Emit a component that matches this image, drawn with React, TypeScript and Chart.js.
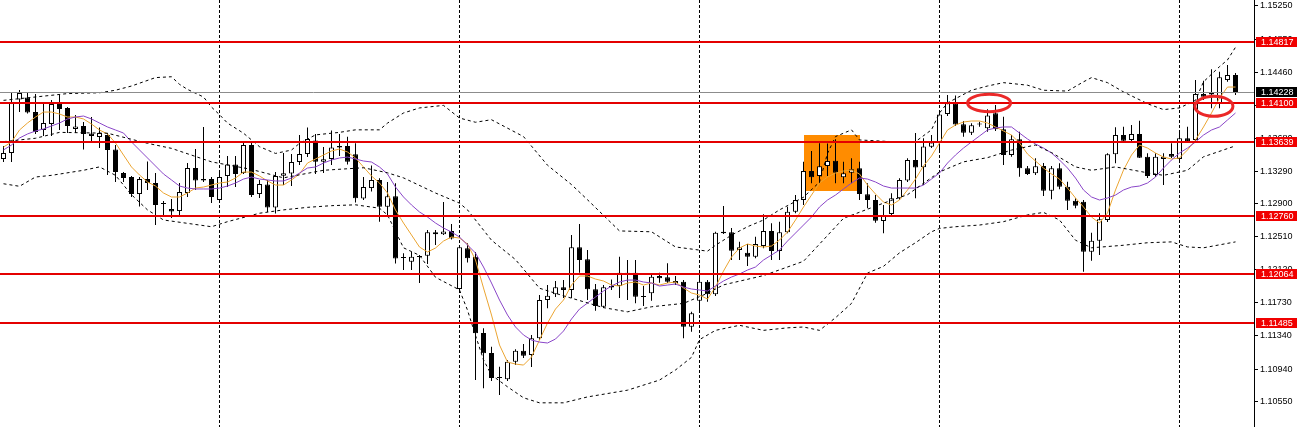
import React, { useEffect, useRef } from "react";
import { Chart, registerables } from "chart.js";

Chart.register(...registerables);

// ---------- DATA (EURUSD-like H4 candles) ----------
const opens = [
  1.13434, 1.13505, 1.14140, 1.14164, 1.13991, 1.13778, 1.13850, 1.14098, 1.14039, 1.13790,
  1.13826, 1.13737, 1.13695, 1.13718, 1.13547, 1.13267, 1.13220, 1.13018, 1.13196, 1.13149,
  1.12911, 1.12840, 1.12816, 1.13030, 1.13327, 1.13196, 1.13196, 1.12947, 1.13232, 1.13368,
  1.13267, 1.13600, 1.13018, 1.13131, 1.12858, 1.13236, 1.13262, 1.13398, 1.13493, 1.13653,
  1.13402, 1.13434, 1.13588, 1.13588, 1.13489, 1.12965, 1.13089, 1.13185, 1.12868, 1.12991,
  1.12264, 1.12214, 1.12282, 1.12286, 1.12564, 1.12540, 1.12579, 1.11890, 1.12374, 1.12274,
  1.11368, 1.11131, 1.10840, 1.10819, 1.11028, 1.11158, 1.11107, 1.11305, 1.11760, 1.11828,
  1.11911, 1.11879, 1.12386, 1.12243, 1.11887, 1.11681, 1.11926, 1.11926, 1.12084, 1.12084,
  1.11804, 1.11840, 1.12045, 1.12030, 1.11958, 1.11977, 1.11443, 1.11752, 1.11977, 1.11828,
  1.12552, 1.12564, 1.12354, 1.12322, 1.12274, 1.12401, 1.12579, 1.12342, 1.12564, 1.12808,
  1.12947, 1.13291, 1.13232, 1.13351, 1.13413, 1.13216, 1.13271, 1.13323, 1.13015, 1.12947,
  1.12698, 1.12781, 1.12967, 1.13179, 1.13422, 1.13335, 1.13580, 1.13624, 1.13968, 1.14089,
  1.13846, 1.13746, 1.13849, 1.13798, 1.13976, 1.13786, 1.13481, 1.13668, 1.13323, 1.13264,
  1.13351, 1.13057, 1.13323, 1.13105, 1.12939, 1.12927, 1.12333, 1.12464, 1.12710, 1.13489,
  1.13718, 1.13659, 1.13731, 1.13461, 1.13244, 1.13434, 1.13493, 1.13434, 1.13679, 1.13659,
  1.14205, 1.14217, 1.14095, 1.14371, 1.14431,
];
const highs = [
  1.13588, 1.14229, 1.14253, 1.14217, 1.14206, 1.14110, 1.14134, 1.14194, 1.14051, 1.13956,
  1.13873, 1.13932, 1.13808, 1.13742, 1.13600, 1.13279, 1.13232, 1.13220, 1.13404, 1.13267,
  1.12935, 1.12959, 1.13149, 1.13386, 1.13552, 1.13814, 1.13220, 1.13303, 1.13469, 1.13469,
  1.13624, 1.13624, 1.13185, 1.13185, 1.13279, 1.13505, 1.13493, 1.13718, 1.13808, 1.13731,
  1.13576, 1.13772, 1.13731, 1.13699, 1.13620, 1.13220, 1.13357, 1.13205, 1.13161, 1.13145,
  1.12314, 1.12330, 1.12294, 1.12591, 1.12591, 1.12923, 1.12662, 1.12401, 1.12433, 1.12330,
  1.11424, 1.11206, 1.10968, 1.11048, 1.11175, 1.11238, 1.11344, 1.11819, 1.11938, 1.11986,
  1.11997, 1.12532, 1.12662, 1.12354, 1.11950, 1.11938, 1.12003, 1.12274, 1.12235, 1.12235,
  1.11926, 1.12077, 1.12084, 1.12196, 1.12045, 1.11997, 1.11621, 1.12037, 1.11997, 1.12571,
  1.12876, 1.12615, 1.12452, 1.12425, 1.12511, 1.12777, 1.12670, 1.12689, 1.12868, 1.13006,
  1.13402, 1.13529, 1.13620, 1.13618, 1.13668, 1.13402, 1.13442, 1.13402, 1.13145, 1.13006,
  1.12888, 1.13027, 1.13205, 1.13442, 1.13742, 1.13679, 1.13718, 1.14003, 1.14194, 1.14187,
  1.13885, 1.13857, 1.13877, 1.14024, 1.14075, 1.13936, 1.13718, 1.13758, 1.13351, 1.13442,
  1.13386, 1.13351, 1.13383, 1.13165, 1.12967, 1.12947, 1.12559, 1.12789, 1.13501, 1.13810,
  1.13817, 1.13837, 1.13888, 1.13501, 1.13501, 1.13501, 1.13620, 1.13778, 1.13817, 1.14371,
  1.14363, 1.14498, 1.14470, 1.14549, 1.14455,
];
const lows = [
  1.13398, 1.13398, 1.13991, 1.13973, 1.13731, 1.13707, 1.13707, 1.13778, 1.13742, 1.13742,
  1.13547, 1.13624, 1.13564, 1.13244, 1.13161, 1.13161, 1.12983, 1.12870, 1.13066, 1.12650,
  1.12745, 1.12734, 1.12769, 1.12983, 1.13066, 1.13161, 1.12911, 1.12923, 1.13101, 1.13101,
  1.13256, 1.12983, 1.12971, 1.12805, 1.12787, 1.13125, 1.13113, 1.13363, 1.13457, 1.13256,
  1.13267, 1.13363, 1.13469, 1.13368, 1.12917, 1.12947, 1.13048, 1.12689, 1.12769, 1.12195,
  1.12116, 1.12116, 1.11962, 1.12187, 1.12413, 1.12532, 1.12478, 1.11879, 1.12205, 1.10810,
  1.10712, 1.10798, 1.10632, 1.10798, 1.10988, 1.11071, 1.10965, 1.11285, 1.11661, 1.11796,
  1.11784, 1.11784, 1.12084, 1.11760, 1.11633, 1.11665, 1.11879, 1.11784, 1.11760, 1.11721,
  1.11689, 1.11752, 1.11965, 1.11962, 1.11938, 1.11305, 1.11384, 1.11641, 1.11740, 1.11808,
  1.12543, 1.12235, 1.12235, 1.12164, 1.12255, 1.12374, 1.12235, 1.12235, 1.12552, 1.12789,
  1.12888, 1.13145, 1.13145, 1.13232, 1.13145, 1.13145, 1.13145, 1.12947, 1.12848, 1.12678,
  1.12552, 1.12749, 1.12947, 1.13161, 1.12967, 1.13125, 1.13564, 1.13508, 1.13944, 1.13825,
  1.13698, 1.13718, 1.13817, 1.13758, 1.13766, 1.13363, 1.13461, 1.13224, 1.13244, 1.13244,
  1.12994, 1.12955, 1.13074, 1.12828, 1.12848, 1.12096, 1.12226, 1.12294, 1.12686, 1.13383,
  1.13624, 1.13635, 1.13446, 1.13208, 1.13220, 1.13125, 1.13446, 1.13410, 1.13635, 1.13647,
  1.14134, 1.14035, 1.14035, 1.14351, 1.14194,
];
const closes = [
  1.13505, 1.14098, 1.14217, 1.13985, 1.13754, 1.13861, 1.14087, 1.14027, 1.13826, 1.13820,
  1.13731, 1.13707, 1.13742, 1.13541, 1.13279, 1.13208, 1.13018, 1.13196, 1.13149, 1.12888,
  1.12900, 1.12811, 1.13042, 1.13327, 1.13179, 1.13179, 1.12983, 1.13220, 1.13368, 1.13256,
  1.13600, 1.13006, 1.13137, 1.12858, 1.13232, 1.13264, 1.13398, 1.13493, 1.13671, 1.13402,
  1.13430, 1.13570, 1.13570, 1.13402, 1.12967, 1.13101, 1.13185, 1.12868, 1.12991, 1.12253,
  1.12258, 1.12274, 1.12270, 1.12564, 1.12540, 1.12573, 1.12490, 1.12386, 1.12255, 1.11365,
  1.11127, 1.10834, 1.10834, 1.11028, 1.11158, 1.11099, 1.11305, 1.11760, 1.11811, 1.11911,
  1.11879, 1.12386, 1.12235, 1.11887, 1.11689, 1.11911, 1.11908, 1.12084, 1.12065, 1.11799,
  1.11796, 1.12037, 1.12018, 1.11977, 1.11986, 1.11443, 1.11602, 1.11977, 1.11828, 1.12559,
  1.12571, 1.12345, 1.12386, 1.12274, 1.12425, 1.12579, 1.12342, 1.12564, 1.12808, 1.12947,
  1.13291, 1.13216, 1.13347, 1.13410, 1.13271, 1.13264, 1.13311, 1.13018, 1.12947, 1.12701,
  1.12757, 1.12967, 1.13185, 1.13422, 1.13333, 1.13582, 1.13630, 1.13962, 1.14095, 1.13843,
  1.13746, 1.13834, 1.13843, 1.13950, 1.13786, 1.13481, 1.13668, 1.13323, 1.13256, 1.13347,
  1.13057, 1.13323, 1.13105, 1.12939, 1.12879, 1.12333, 1.12464, 1.12718, 1.13489, 1.13718,
  1.13651, 1.13731, 1.13449, 1.13232, 1.13461, 1.13461, 1.13461, 1.13679, 1.13639, 1.14205,
  1.14173, 1.14199, 1.14403, 1.14431, 1.14228,
];

// fast moving average (orange)
const maFast = [
  1.13576, 1.13636, 1.13778, 1.13861, 1.13932, 1.13991, 1.13991, 1.13968, 1.13932, 1.13932,
  1.13909, 1.13849, 1.13778, 1.13731, 1.13624, 1.13481, 1.13339, 1.13244, 1.13161, 1.13113,
  1.13030, 1.12983, 1.12983, 1.13030, 1.13089, 1.13101, 1.13125, 1.13149, 1.13161, 1.13208,
  1.13279, 1.13279, 1.13232, 1.13173, 1.13125, 1.13125, 1.13185, 1.13256, 1.13386, 1.13434,
  1.13481, 1.13529, 1.13552, 1.13517, 1.13446, 1.13339, 1.13232, 1.13149, 1.13030, 1.12828,
  1.12674, 1.12532, 1.12389, 1.12330, 1.12377, 1.12460, 1.12508, 1.12496, 1.12425, 1.12235,
  1.11903, 1.11582, 1.11226, 1.11024, 1.11000, 1.10988, 1.11083, 1.11285, 1.11487, 1.11653,
  1.11760, 1.11938, 1.12045, 1.12045, 1.12009, 1.11986, 1.11938, 1.11926, 1.11962, 1.11974,
  1.11938, 1.11962, 1.11938, 1.11962, 1.11974, 1.11903, 1.11843, 1.11819, 1.11772, 1.11914,
  1.12104, 1.12270, 1.12377, 1.12425, 1.12401, 1.12389, 1.12401, 1.12472, 1.12567, 1.12710,
  1.12864, 1.13006, 1.13149, 1.13220, 1.13267, 1.13291, 1.13303, 1.13256, 1.13125, 1.13018,
  1.12923, 1.12888, 1.12947, 1.13066, 1.13196, 1.13351, 1.13469, 1.13624, 1.13778, 1.13837,
  1.13873, 1.13885, 1.13885, 1.13861, 1.13814, 1.13766, 1.13718, 1.13624, 1.13493, 1.13410,
  1.13327, 1.13256, 1.13196, 1.13089, 1.12971, 1.12864, 1.12745, 1.12674, 1.12793, 1.13066,
  1.13303, 1.13481, 1.13600, 1.13564, 1.13505, 1.13457, 1.13434, 1.13446, 1.13541, 1.13659,
  1.13814, 1.13980, 1.14158, 1.14288, 1.14288,
];
// slower moving average (purple)
const maSlow = [
  1.13541, 1.13600, 1.13683, 1.13731, 1.13766, 1.13790, 1.13826, 1.13861, 1.13909, 1.13932,
  1.13944, 1.13909, 1.13861, 1.13814, 1.13778, 1.13742, 1.13636, 1.13541, 1.13446, 1.13351,
  1.13256, 1.13185, 1.13113, 1.13089, 1.13078, 1.13078, 1.13078, 1.13089, 1.13113, 1.13149,
  1.13196, 1.13220, 1.13196, 1.13185, 1.13173, 1.13173, 1.13208, 1.13267, 1.13327, 1.13339,
  1.13386, 1.13422, 1.13446, 1.13457, 1.13434, 1.13410, 1.13398, 1.13339, 1.13256, 1.13101,
  1.12983, 1.12888, 1.12805, 1.12745, 1.12674, 1.12615, 1.12567, 1.12508, 1.12413, 1.12318,
  1.12152, 1.11962, 1.11760, 1.11582, 1.11440, 1.11345, 1.11285, 1.11261, 1.11250, 1.11297,
  1.11392, 1.11535, 1.11653, 1.11724, 1.11796, 1.11867, 1.11926, 1.11974, 1.11997, 1.11997,
  1.11974, 1.11962, 1.11926, 1.11938, 1.11950, 1.11914, 1.11891, 1.11879, 1.11867, 1.11926,
  1.11986, 1.12033, 1.12069, 1.12116, 1.12152, 1.12235, 1.12294, 1.12354, 1.12460, 1.12555,
  1.12650, 1.12745, 1.12864, 1.12947, 1.13006, 1.13078, 1.13149, 1.13208, 1.13196, 1.13161,
  1.13113, 1.13089, 1.13089, 1.13089, 1.13089, 1.13125, 1.13196, 1.13267, 1.13386, 1.13481,
  1.13564, 1.13636, 1.13707, 1.13778, 1.13802, 1.13814, 1.13814, 1.13742, 1.13671, 1.13612,
  1.13564, 1.13505, 1.13422, 1.13327, 1.13208, 1.13066, 1.12983, 1.12947, 1.12971, 1.13006,
  1.13066, 1.13101, 1.13113, 1.13149, 1.13220, 1.13327, 1.13422, 1.13505, 1.13564, 1.13636,
  1.13718, 1.13778, 1.13814, 1.13897, 1.13980,
];

// Bollinger bands, read at [candle index, price]
const bbUpper: [number, number][] = [
  [0, 1.1413], [4, 1.1417], [8, 1.1421], [12, 1.1422], [14, 1.1425], [16, 1.143], [19, 1.144],
  [21, 1.1441], [22, 1.1432], [23, 1.1426], [25, 1.1417], [26, 1.1405], [27, 1.1396], [28, 1.1386],
  [30, 1.1374], [32, 1.1358], [34, 1.135], [36, 1.1354], [37, 1.1362], [39, 1.1372], [42, 1.1375],
  [44, 1.1378], [47, 1.1378], [48, 1.1386], [50, 1.1398], [52, 1.1404], [55, 1.1407], [57, 1.1392],
  [59, 1.1387], [61, 1.139], [65, 1.137], [68, 1.1336], [71, 1.1313], [73, 1.1295], [77, 1.1258],
  [81, 1.1257], [84, 1.1239], [88, 1.1234], [89, 1.1241], [91, 1.1253], [93, 1.1263], [95, 1.1271],
  [97, 1.1283], [100, 1.1298], [102, 1.1316], [103, 1.135], [104, 1.137], [106, 1.1378],
  [107, 1.1366], [111, 1.1364], [114, 1.1364], [116, 1.1378], [117, 1.1398], [118, 1.141],
  [121, 1.1425], [123, 1.143], [125, 1.1434], [128, 1.1431], [130, 1.1425], [133, 1.1424],
  [135, 1.1435], [136, 1.144], [138, 1.1434], [140, 1.1423], [143, 1.1409], [145, 1.1402],
  [147, 1.1404], [149, 1.1413], [150, 1.1435], [152, 1.1453], [153, 1.1461], [154, 1.1476],
];
const bbMiddle: [number, number][] = [
  [0, 1.1364], [4, 1.1368], [7, 1.1375], [13, 1.1374], [18, 1.1362], [21, 1.1356], [26, 1.134],
  [31, 1.1331], [35, 1.1321], [40, 1.133], [45, 1.1333], [48, 1.1327], [50, 1.1321], [54, 1.1303],
  [57, 1.1291], [58, 1.1283], [61, 1.1247], [64, 1.1224], [67, 1.119], [70, 1.1181], [75, 1.1167],
  [78, 1.1162], [81, 1.1168], [85, 1.1172], [88, 1.1184], [90, 1.1194], [95, 1.1205], [100, 1.1222],
  [105, 1.1273], [110, 1.1291], [113, 1.1301], [117, 1.1328], [120, 1.134], [123, 1.1345],
  [126, 1.1354], [129, 1.136], [131, 1.1351], [134, 1.1334], [136, 1.133], [139, 1.1334],
  [143, 1.1327], [145, 1.1324], [148, 1.133], [150, 1.1346], [154, 1.1359],
];
const bbLower: [number, number][] = [
  [0, 1.1314], [2, 1.1311], [4, 1.1322], [6, 1.1324], [10, 1.133], [12, 1.1334], [14, 1.1324],
  [16, 1.1301], [18, 1.1283], [20, 1.1271], [23, 1.1267], [26, 1.1263], [28, 1.1269], [32, 1.1279],
  [35, 1.1283], [38, 1.1286], [41, 1.1288], [44, 1.1289], [47, 1.1285], [48, 1.1277], [50, 1.1238],
  [52, 1.1229], [54, 1.1203], [57, 1.1188], [58, 1.1164], [59, 1.1134], [60, 1.1105], [61, 1.1087],
  [63, 1.1073], [65, 1.106], [67, 1.1054], [70, 1.1054], [73, 1.1061], [78, 1.1069], [82, 1.1081],
  [84, 1.1093], [86, 1.1108], [87, 1.1129], [89, 1.114], [92, 1.1146], [95, 1.114], [98, 1.1143],
  [100, 1.1144], [102, 1.114], [104, 1.1155], [106, 1.1172], [108, 1.1208], [110, 1.1216],
  [112, 1.1232], [114, 1.1244], [116, 1.1257], [117, 1.1261], [119, 1.1263], [122, 1.1265],
  [125, 1.1269], [128, 1.1277], [130, 1.128], [132, 1.1271], [134, 1.1247], [136, 1.1238],
  [140, 1.1241], [143, 1.1244], [146, 1.1245], [148, 1.1239], [150, 1.1238], [154, 1.1245],
];

// horizontal support / resistance levels (red) and the current bid (grey)
const levels = [1.14817, 1.141, 1.13639, 1.1276, 1.12064, 1.11485];
const bidPrice = 1.14228;
// right-axis tick labels
const tickValues = [
  1.1525, 1.1485, 1.1446, 1.1407, 1.1368, 1.1329, 1.129, 1.1251, 1.1212, 1.1173, 1.1134, 1.1094, 1.1055,
];
// period separators (candle indices)
const separators = [27, 57, 87, 117, 147];
// highlighted zone: [fromIndex, toIndex, topPrice, bottomPrice]
const zone = [100, 107, 1.13718, 1.13054];
// ellipse marks: [centerIndex, centerPrice, halfWidthInCandles, halfHeightInPrice]
const marks = [
  [123.2, 1.14098, 2.69, 0.00103],
  [151.3, 1.14059, 2.38, 0.00119],
];

// ---------- VIEW / STYLE ----------
const X_MIN = -0.4375;
const X_MAX = 156.3125;
const Y_MIN = 1.10253;
const Y_MAX = 1.15321;
const FONT = "Liberation Sans";
const FONT_SIZE = 9;
const RED = "rgb(228,0,0)";

const overlay = {
  id: "mt4overlay",
  beforeDatasetsDraw(chart: any) {
    const { ctx, chartArea, scales } = chart;
    const x = scales.x, y = scales.y;
    ctx.save();
    const zx0 = Math.round(x.getPixelForValue(zone[0]));
    const zx1 = Math.round(x.getPixelForValue(zone[1]));
    const zy0 = Math.round(y.getPixelForValue(zone[2]));
    const zy1 = Math.round(y.getPixelForValue(zone[3]));
    ctx.fillStyle = "rgb(255,140,0)";
    ctx.fillRect(zx0, zy0, zx1 - zx0, zy1 - zy0);
    ctx.strokeStyle = "#000";
    ctx.lineWidth = 1;
    ctx.setLineDash([3, 2]);
    for (const s of separators) {
      const px = Math.floor(x.getPixelForValue(s)) + 0.5;
      ctx.beginPath();
      ctx.moveTo(px, chartArea.top);
      ctx.lineTo(px, chartArea.bottom);
      ctx.stroke();
    }
    ctx.restore();
  },
  afterDatasetsDraw(chart: any) {
    const { ctx, chartArea, scales } = chart;
    const x = scales.x, y = scales.y;
    ctx.save();
    const by = Math.floor(y.getPixelForValue(bidPrice)) + 0.5;
    ctx.strokeStyle = "rgb(140,140,140)";
    ctx.lineWidth = 1;
    ctx.beginPath();
    ctx.moveTo(chartArea.left, by);
    ctx.lineTo(chartArea.right, by);
    ctx.stroke();
    ctx.strokeStyle = RED;
    ctx.lineWidth = 2;
    for (const lv of levels) {
      const py = Math.round(y.getPixelForValue(lv));
      ctx.beginPath();
      ctx.moveTo(chartArea.left, py);
      ctx.lineTo(chartArea.right, py);
      ctx.stroke();
    }
    ctx.strokeStyle = "rgb(235,40,40)";
    ctx.lineWidth = 3;
    for (const m of marks) {
      const cx = x.getPixelForValue(m[0]);
      const cy = y.getPixelForValue(m[1]);
      const rx = x.getPixelForValue(m[0] + m[2]) - cx;
      const ry = y.getPixelForValue(m[1] - m[3]) - cy;
      ctx.beginPath();
      ctx.ellipse(cx, cy, rx, ry, 0, 0, Math.PI * 2);
      ctx.stroke();
    }
    ctx.restore();
  },
  afterDraw(chart: any) {
    const { ctx, chartArea, scales } = chart;
    const y = scales.y;
    ctx.save();
    ctx.font = `${FONT_SIZE}px "${FONT}"`;
    ctx.textBaseline = "middle";
    ctx.textAlign = "left";
    const boxX = chartArea.right + 2;
    const drawTag = (v: number, bg: string) => {
      const py = Math.round(y.getPixelForValue(v));
      ctx.fillStyle = bg;
      ctx.fillRect(boxX, py - 5, 41, 10);
      ctx.fillStyle = "#fff";
      ctx.fillText(v.toFixed(5), boxX + 5, py + 0.5);
    };
    drawTag(bidPrice, "#000");
    for (const lv of levels) drawTag(lv, "rgb(240,0,0)");
    ctx.restore();
  },
};

export default function App() {
  const ref = useRef<HTMLCanvasElement | null>(null);

  useEffect(() => {
    if (!ref.current) return;
    const idx = closes.map((_, i) => i);
    const bodyColors = closes.map((c, i) => (c >= opens[i] ? "#ffffff" : "#000000"));

    const lineDs = (label: string, pts: { x: number; y: number }[], color: string, dash: number[]) => ({
      type: "line" as const,
      label,
      data: pts,
      borderColor: color,
      borderWidth: 1,
      borderDash: dash,
      pointRadius: 0,
      fill: false,
      tension: 0,
      order: 0,
    });

    const chart = new Chart(ref.current, {
      type: "bar",
      data: {
        datasets: [
          lineDs("BB upper", bbUpper.map(([k, v]) => ({ x: k, y: v })), "#000", [3, 3]),
          lineDs("BB middle", bbMiddle.map(([k, v]) => ({ x: k, y: v })), "#000", [3, 3]),
          lineDs("BB lower", bbLower.map(([k, v]) => ({ x: k, y: v })), "#000", [3, 3]),
          lineDs("MA slow", idx.map((i) => ({ x: i, y: maSlow[i] })), "rgb(138,70,200)", []),
          lineDs("MA fast", idx.map((i) => ({ x: i, y: maFast[i] })), "rgb(235,165,50)", []),
          {
            type: "bar" as const,
            label: "body",
            data: idx.map((i) => ({ x: i, y: [opens[i], closes[i]] })) as any,
            backgroundColor: bodyColors,
            borderColor: "#000",
            borderWidth: 1,
            borderSkipped: false,
            maxBarThickness: 5,
            minBarLength: 1,
            grouped: false,
            inflateAmount: 0,
            order: 1,
          } as any,
          {
            type: "bar" as const,
            label: "wick",
            data: idx.map((i) => ({ x: i, y: [lows[i], highs[i]] })) as any,
            backgroundColor: "#000",
            borderWidth: 0,
            maxBarThickness: 1,
            grouped: false,
            inflateAmount: 0,
            order: 2,
          } as any,
        ],
      },
      options: {
        animation: false,
        responsive: false,
        maintainAspectRatio: false,
        devicePixelRatio: 1,
        events: [],
        layout: { padding: 0 },
        plugins: { legend: { display: false }, tooltip: { enabled: false } },
        scales: {
          x: {
            type: "linear",
            min: X_MIN,
            max: X_MAX,
            offset: false,
            display: false,
            grid: { display: false },
          },
          y: {
            type: "linear",
            position: "right",
            min: Y_MIN,
            max: Y_MAX,
            beginAtZero: false,
            afterBuildTicks: (s: any) => {
              s.ticks = tickValues.map((v) => ({ value: v }));
            },
            afterFit: (s: any) => {
              s.width = 47;
              s.paddingTop = 0;
              s.paddingBottom = 0;
            },
            ticks: {
              autoSkip: false,
              color: "#000",
              padding: 2,
              font: { family: FONT, size: FONT_SIZE },
              callback: (v: any) => Number(v).toFixed(5),
            },
            grid: { drawOnChartArea: false, drawTicks: true, tickLength: 4, color: "#000", lineWidth: 1 },
            border: { display: true, color: "#000", width: 1 },
          },
        },
      } as any,
      plugins: [overlay],
    });
    return () => chart.destroy();
  }, []);

  return (
    <div style={{ position: "fixed", left: 0, top: 0, width: 1301, height: 427, background: "#fff" }}>
      <canvas ref={ref} width={1301} height={427} style={{ display: "block" }} />
    </div>
  );
}
